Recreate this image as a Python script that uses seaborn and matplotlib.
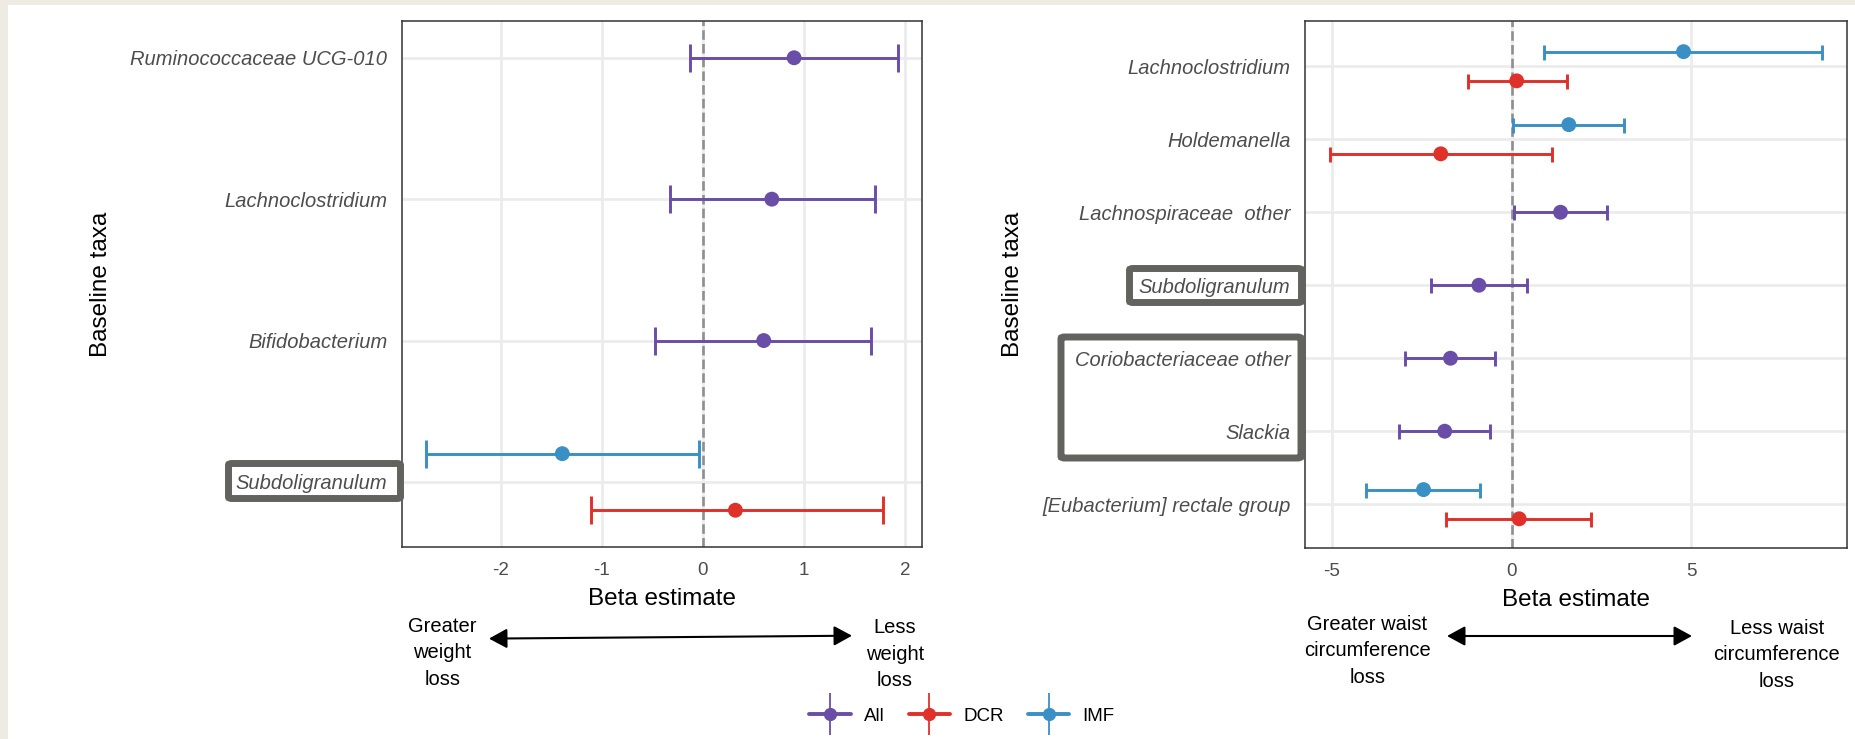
import numpy as np
import pandas as pd
import matplotlib
matplotlib.use("Agg")
import matplotlib.pyplot as plt
import seaborn as sns
from matplotlib.lines import Line2D
from matplotlib.legend_handler import HandlerTuple
from matplotlib.patches import FancyBboxPatch, FancyArrowPatch, Rectangle

# ---------------- data ----------------
groups = ["All", "DCR", "IMF"]
group_colors = ["#6A4DA6", "#E0302A", "#3A8FC4"]

# Weight-loss panel
w_categories = ["Ruminococcaceae UCG-010", "Lachnoclostridium", "Bifidobacterium", "Subdoligranulum"]
w_taxon = ["Ruminococcaceae UCG-010", "Lachnoclostridium", "Bifidobacterium", "Subdoligranulum", "Subdoligranulum"]
w_group = ["All", "All", "All", "IMF", "DCR"]
w_beta = [0.90, 0.68, 0.60, -1.39, 0.32]
w_lo = [-0.13, -0.33, -0.47, -2.74, -1.11]
w_hi = [1.93, 1.70, 1.66, -0.04, 1.78]
w_xticks = [-2, -1, 0, 1, 2]

# Waist-circumference panel
c_categories = ["Lachnoclostridium", "Holdemanella", "Lachnospiraceae  other", "Subdoligranulum",
                "Coriobacteriaceae other", "Slackia", "[Eubacterium] rectale group"]
c_taxon = ["Lachnoclostridium", "Lachnoclostridium", "Holdemanella", "Holdemanella",
           "Lachnospiraceae  other", "Subdoligranulum", "Coriobacteriaceae other", "Slackia",
           "[Eubacterium] rectale group", "[Eubacterium] rectale group"]
c_group = ["IMF", "DCR", "IMF", "DCR", "All", "All", "All", "All", "IMF", "DCR"]
c_beta = [4.78, 0.14, 1.59, -1.97, 1.36, -0.91, -1.70, -1.86, -2.45, 0.21]
c_lo = [0.90, -1.22, 0.05, -5.06, 0.06, -2.23, -2.96, -3.13, -4.04, -1.83]
c_hi = [8.64, 1.54, 3.13, 1.12, 2.66, 0.42, -0.45, -0.59, -0.87, 2.21]
c_xticks = [-5, 0, 5]

xlabel_text = "Beta estimate"
ylabel_text = "Baseline taxa"

# ---------------- style ----------------
sns.set_style("white")
plt.rcParams["font.family"] = ["Liberation Sans", "DejaVu Sans"]
plt.rcParams["text.color"] = "black"

W, H = 1856, 739
fig = plt.figure(figsize=(W / 100, H / 100), dpi=100)
fig.patch.set_facecolor("#EEEBE3")
fig.add_artist(Rectangle((8 / W, 0), 1 - 8 / W, 1 - 5 / H, transform=fig.transFigure,
                         facecolor="white", edgecolor="none", zorder=-10))


def px_rect(x0, y0, x1, y1):
    return [x0 / W, 1 - y1 / H, (x1 - x0) / W, (y1 - y0) / H]


def fx(x):
    return x / W


def fy(y):
    return 1 - y / H


palette = dict(zip(groups, group_colors))


def make_df(taxon, group, beta, lo, hi, cats):
    df = pd.DataFrame({"taxon": taxon, "group": group, "beta": beta, "lo": lo, "hi": hi})
    idx = {c: i for i, c in enumerate(cats)}
    counts = df.groupby("taxon")["group"].transform("count")
    off = np.where(counts > 1, np.where(df["group"] == "IMF", -0.2, 0.2), 0.0)
    df["ypos"] = df["taxon"].map(idx) + off
    return df


def draw_panel(ax, df, cats, xticks, ylim, capsize):
    ax.set_facecolor("white")
    ax.axvline(0, color="#8F8F8F", lw=1.9, ls=(0, (3.6, 1.6)), zorder=1.5)
    for g in groups:
        sub = df[df["group"] == g]
        if len(sub) == 0:
            continue
        ax.errorbar(sub["beta"], sub["ypos"],
                    xerr=[sub["beta"] - sub["lo"], sub["hi"] - sub["beta"]],
                    fmt="none", ecolor=palette[g], elinewidth=2.1, capsize=capsize,
                    capthick=2.1, zorder=2)
    sns.scatterplot(data=df, x="beta", y="ypos", hue="group", palette=palette,
                    s=115, edgecolor="none", legend=False, ax=ax, zorder=3)
    rng = df["hi"].max() - df["lo"].min()
    ax.set_xlim(df["lo"].min() - 0.05 * rng, df["hi"].max() + 0.05 * rng)
    ax.set_ylim(*ylim)
    ax.set_yticks(range(len(cats)))
    ax.set_yticklabels(cats, fontstyle="italic")
    ax.set_xticks(xticks)
    ax.set_xticklabels([str(t) for t in xticks])
    ax.grid(True, color="#EBEBEB", lw=1.9)
    ax.set_axisbelow(True)
    for s in ax.spines.values():
        s.set_color("#333333")
        s.set_linewidth(1.1)
    ax.tick_params(axis="both", length=5.5, width=1.6, color="#333333",
                   labelcolor="#4D4D4D")
    ax.tick_params(axis="y", labelsize=14.5, pad=5)
    ax.tick_params(axis="x", labelsize=13.5, pad=5)
    ax.set_xlabel(xlabel_text, fontsize=17.5, color="black", labelpad=7)
    ax.set_ylabel(ylabel_text, fontsize=17.5, color="black")


# left panel
ax1 = fig.add_axes(px_rect(402, 21, 922, 547))
df1 = make_df(w_taxon, w_group, w_beta, w_lo, w_hi, w_categories)
draw_panel(ax1, df1, w_categories, w_xticks, (3.46, -0.26), capsize=10)
ax1.yaxis.set_label_coords((112 - 402) / 520, 0.5)

# right panel
ax2 = fig.add_axes(px_rect(1305, 21, 1847, 548))
df2 = make_df(c_taxon, c_group, c_beta, c_lo, c_hi, c_categories)
draw_panel(ax2, df2, c_categories, c_xticks, (6.6, -0.62), capsize=5.4)
ax2.yaxis.set_label_coords((1024 - 1305) / 542, 0.5)

# highlight boxes around tick labels
box_color = "#62635E"
for (x0, y0, x1, y1) in [(228.5, 463.5, 400.5, 498.5),
                         (1129.5, 268.5, 1301.5, 302.5),
                         (1061, 337, 1301, 458)]:
    fig.add_artist(FancyBboxPatch((fx(x0), fy(y1)), fx(x1) - fx(x0), fy(y0) - fy(y1),
                                  boxstyle="round,pad=0,rounding_size=0.002",
                                  transform=fig.transFigure, facecolor="none",
                                  edgecolor=box_color, lw=5, zorder=5))

# direction arrows
for (xa, ya, xb, yb) in [(489, 638.6, 852, 635.7), (1447, 636, 1692, 636)]:
    fig.add_artist(FancyArrowPatch((fx(xa), fy(ya)), (fx(xb), fy(yb)),
                                   transform=fig.transFigure,
                                   arrowstyle="<|-|>,head_length=0.55,head_width=0.3",
                                   mutation_scale=20, lw=1.5, color="black",
                                   shrinkA=0, shrinkB=0))

ann = [("Greater\nweight\nloss", 442.5, 653),
       ("Less\nweight\nloss", 895, 654),
       ("Greater waist\ncircumference\nloss", 1367.5, 651),
       ("Less waist\ncircumference\nloss", 1777, 655)]
for txt, x, y in ann:
    fig.text(fx(x), fy(y), txt, ha="center", va="center", fontsize=14.5,
             linespacing=1.5, color="black")

# legend
handles = []
for g, c in zip(groups, group_colors):
    handles.append((Line2D([], [], color=c, lw=2.8, marker="o", markersize=8.5),
                    Line2D([], [], color=c, lw=0, marker="|", markersize=30,
                           markeredgewidth=1.3)))
fig.legend(handles=handles, labels=groups, handler_map={tuple: HandlerTuple(ndivide=1)},
           loc="center", bbox_to_anchor=(fx(962), fy(716)), ncol=3, frameon=False,
           fontsize=13.5, handlelength=2.2, handletextpad=0.7, columnspacing=1.3,
           labelcolor="black")

fig.savefig("out.png", dpi=100, facecolor=fig.get_facecolor())
